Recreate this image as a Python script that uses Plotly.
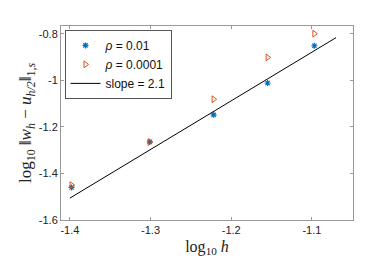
import plotly.graph_objects as go

log_h = [-1.3979, -1.3010, -1.2218, -1.1549, -1.0969]
err_rho_001 = [-1.460, -1.264, -1.148, -1.011, -0.851]
err_rho_00001 = [-1.450, -1.265, -1.081, -0.901, -0.799]
slope_x = [-1.40, -1.07]
slope_y = [-1.506, -0.816]

fig = go.Figure()
fig.add_trace(go.Scatter(x=log_h, y=err_rho_001, mode="markers", name="<i>ρ</i> = 0.01",
                         marker=dict(symbol="asterisk-open", size=5, color="#0072BD",
                                     line=dict(width=1.2, color="#0072BD"))))
fig.add_trace(go.Scatter(x=log_h, y=err_rho_00001, mode="markers", name="<i>ρ</i> = 0.0001",
                         marker=dict(symbol="triangle-right-open", size=6, color="#D95319",
                                     line=dict(width=1, color="#D95319"))))
fig.add_trace(go.Scatter(x=slope_x, y=slope_y, mode="lines", name="slope = 2.1",
                         line=dict(color="black", width=1)))

axis_common = dict(showgrid=False, zeroline=False, showline=True, linecolor="#999999",
                   linewidth=1, mirror="ticks", ticks="inside", ticklen=3, tickcolor="#999999",
                   tickfont=dict(family="Liberation Sans, Arial", size=11, color="#222222"))

fig.update_layout(
    width=381, height=256,
    margin=dict(l=53, r=36, t=18, b=42),
    plot_bgcolor="white", paper_bgcolor="white",
    xaxis=dict(range=[-1.411, -1.049], tickvals=[-1.4, -1.3, -1.2, -1.1],
               ticktext=["-1.4", "-1.3", "-1.2", "-1.1"],
               title=dict(text="log<sub>10</sub> <i>h</i>", standoff=5,
                          font=dict(family="Liberation Serif, DejaVu Serif", size=16, color="#222222")),
               **axis_common),
    yaxis=dict(range=[-1.6, -0.766], tickvals=[-1.6, -1.4, -1.2, -1.0, -0.8],
               ticktext=["-1.6", "-1.4", "-1.2", "-1", "-0.8"],
               title=dict(text="log<sub>10</sub> ‖<i>w<sub>h</sub></i> − <i>u<sub>h/2</sub></i>‖<sub>1,<i>s</i></sub>",
                          standoff=2,
                          font=dict(family="Liberation Serif, DejaVu Serif", size=17, color="#222222")),
               **axis_common),
    legend=dict(x=0.012, y=0.98, xanchor="left", yanchor="top",
                bgcolor="white", bordercolor="#555555", borderwidth=1,
                font=dict(family="Liberation Sans, Arial", size=12, color="#111111"),
                tracegroupgap=0, itemwidth=30),
    showlegend=True,
)

fig.write_html("out.html")
